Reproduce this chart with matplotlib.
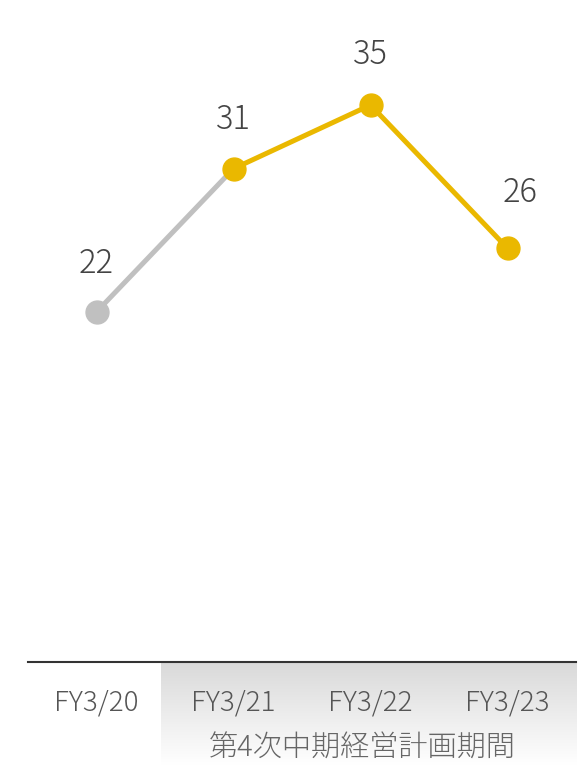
import matplotlib.pyplot as plt
import numpy as np
from matplotlib.colors import LinearSegmentedColormap

plt.rcParams['font.family'] = ['Noto Sans CJK JP', 'DejaVu Sans']

# データ
years = ['FY3/20', 'FY3/21', 'FY3/22', 'FY3/23']
values = [22, 31, 35, 26]
period_label = '第4次中期経営計画期間'

gray = '#c0c0c0'
gold = '#eab800'

fig = plt.figure(figsize=(5.82, 7.65), dpi=100)
ax = fig.add_axes([28 / 582, 103 / 765, 548 / 582, 662 / 765])
ax.patch.set_alpha(0)

x = np.arange(len(years))
ylim_top = 41.6
px_per_unit = 662 / ylim_top
grad_bottom = -103 / px_per_unit

# 中期経営計画期間の背景グラデーション
grad = np.linspace(0, 1, 256).reshape(-1, 1)
cmap = LinearSegmentedColormap.from_list('g', ['#d9d9d9', '#ffffff'])
ax.imshow(grad, extent=[x[1] - 0.53, x[-1] + 0.5, grad_bottom, 0], aspect='auto',
          cmap=cmap, clip_on=False, zorder=0, interpolation='bilinear')
ax.text((x[1] + x[-1]) / 2 - 0.06, grad_bottom + 1.05, period_label, ha='center', va='center',
        fontsize=21, color='#666666', fontweight='light', clip_on=False)

# 折れ線
ax.plot(x[:2], values[:2], color=gray, lw=3.6, solid_capstyle='round', zorder=3)
ax.plot(x[1:], values[1:], color=gold, lw=3.6, solid_capstyle='round', zorder=3)
ax.plot(x[:1], values[:1], 'o', color=gray, ms=16.5, zorder=4)
ax.plot(x[1:], values[1:], 'o', color=gold, ms=16.5, zorder=4)

offsets = [(0, 35), (0, 35), (0, 36), (9, 40)]
for xi, v, off in zip(x, values, offsets):
    ax.annotate(str(v), (xi, v), xytext=off, textcoords='offset points',
                ha='center', va='center', fontsize=23.5, color='#444444',
                fontweight='light')

ax.set_xlim(-0.5, 3.5)
ax.set_ylim(0, ylim_top)
ax.set_xticks(x)
ax.set_xticklabels(years, fontsize=20, color='#555555', fontweight='light')
ax.tick_params(axis='x', length=0, pad=19)
ax.set_yticks([])
for s in ['top', 'right', 'left']:
    ax.spines[s].set_visible(False)
ax.spines['bottom'].set_color('#333333')
ax.spines['bottom'].set_linewidth(1.5)

plt.savefig('out.png', dpi=100)
